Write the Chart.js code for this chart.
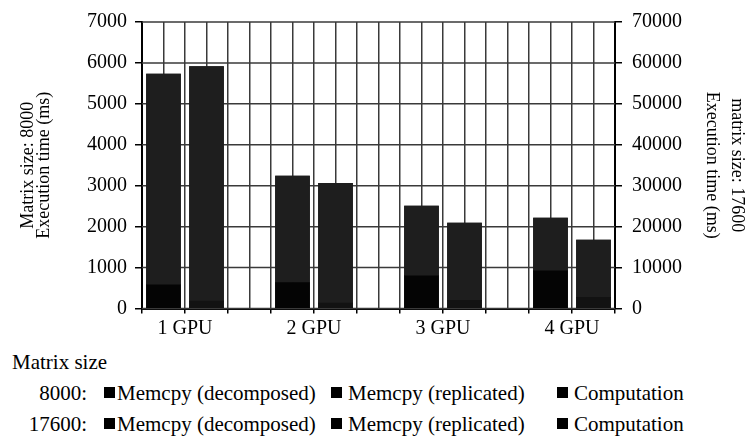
<!DOCTYPE html>
<html>
<head>
<meta charset="utf-8">
<script src="https://cdn.jsdelivr.net/npm/chart.js@4.4.1/dist/chart.umd.min.js"></script>
<style>
    html, body { margin: 0; padding: 0; background: #fff; }
    #wrap { position: relative; width: 748px; height: 441px; font-family: 'Liberation Serif', serif; color: #000; }
    #chartBox { position: absolute; left: 0; top: 0; width: 748px; height: 345px; }
    .lg { position: absolute; font-size: 21px; line-height: 24px; white-space: nowrap; }
    .sw { position: absolute; width: 11px; height: 11px; }
</style>
</head>
<body>
<div id="wrap">
    <div id="chartBox"><canvas id="chart"></canvas></div>
    <div id="legend"></div>
</div>
<script>
const gpuLabels = ['1 GPU', '2 GPU', '3 GPU', '4 GPU'];
const leftTicks = [0, 1000, 2000, 3000, 4000, 5000, 6000, 7000];
const rightTicks = [0, 10000, 20000, 30000, 40000, 50000, 60000, 70000];
const sizeLabels = ['8000', '17600'];
const seriesLabels = ['Memcpy (decomposed)', 'Memcpy (replicated)', 'Computation'];

// matrix size 8000 (left axis, ms)
const memcpyDecomposed8000 = [580, 635, 800, 920];
const memcpyReplicated8000 = [180, 135, 200, 270];
const computationDecomposed8000 = [5150, 2600, 1705, 1290];
const computationReplicated8000 = [5730, 2925, 1890, 1400];

// matrix size 17600 (right axis, ms)
const memcpyDecomposed17600 = [5800, 6350, 8000, 9200];
const memcpyReplicated17600 = [1800, 1350, 2000, 2700];
const computationDecomposed17600 = [51500, 26000, 17050, 12900];
const computationReplicated17600 = [57300, 29250, 18900, 14000];

const colors = ['#040404', '#121212', '#1e1e1e'];
const gridColor = '#3a3a3a';

// each GPU group takes 3 slots: decomposed bar, replicated bar, gap
const slotX = (g, variant) => g * 3 + variant + 0.5;
const pts = (values, variant) => values.map((v, g) => ({ x: slotX(g, variant), y: v }));

function sizeDatasets(sizeIdx, axis, memDec, memRep, compDec, compRep) {
    return [
        { label: seriesLabels[0], size: sizeIdx, data: pts(memDec, 0), backgroundColor: colors[0], yAxisID: axis },
        { label: seriesLabels[1], size: sizeIdx, data: pts(memRep, 1), backgroundColor: colors[1], yAxisID: axis },
        { label: seriesLabels[2], size: sizeIdx, data: pts(compDec, 0).concat(pts(compRep, 1)), backgroundColor: colors[2], yAxisID: axis }
    ];
}

const datasets = sizeDatasets(0, 'y', memcpyDecomposed8000, memcpyReplicated8000, computationDecomposed8000, computationReplicated8000)
    .concat(sizeDatasets(1, 'y1', memcpyDecomposed17600, memcpyReplicated17600, computationDecomposed17600, computationReplicated17600));

const tickFont = { family: 'Liberation Serif', size: 20 };

// horizontal grid lines at the left axis ticks, drawn under the bars
const hGrid = {
    id: 'hGrid',
    beforeDatasetsDraw(chart) {
        const { ctx, chartArea, scales } = chart;
        ctx.save();
        ctx.strokeStyle = gridColor;
        ctx.lineWidth = 1.5;
        scales.y.ticks.forEach(t => {
            const py = scales.y.getPixelForValue(t.value);
            ctx.beginPath();
            ctx.moveTo(chartArea.left, py);
            ctx.lineTo(chartArea.right, py);
            ctx.stroke();
        });
        ctx.restore();
    }
};

const chart = new Chart(document.getElementById('chart'), {
    type: 'bar',
    data: { datasets: datasets },
    plugins: [hGrid],
    options: {
        responsive: true,
        maintainAspectRatio: false,
        animation: false,
        layout: { padding: { top: 15, left: 0, right: 0, bottom: 0 } },
        datasets: { bar: { barThickness: 34, borderWidth: 0 } },
        plugins: { legend: { display: false }, tooltip: { enabled: false } },
        scales: {
            x: {
                type: 'linear',
                stacked: true,
                min: 0,
                max: gpuLabels.length * 3 - 1,
                offset: false,
                afterFit: s => { s.height = 36.5; },
                grid: {
                    offset: false,
                    color: gridColor,
                    lineWidth: 1.5,
                    tickLength: 5,
                    tickColor: c => (c.tick && !Number.isInteger(c.tick.value)) ? 'rgba(0,0,0,0)' : '#000',
                    tickWidth: 1.5
                },
                border: { color: '#000', width: 2 },
                ticks: {
                    stepSize: 0.5,
                    autoSkip: false,
                    maxRotation: 0,
                    padding: 3,
                    color: '#000',
                    font: tickFont,
                    callback: v => {
                        const g = (v - 1) / 3;
                        return Number.isInteger(g) ? gpuLabels[g] : '';
                    }
                }
            },
            y: {
                type: 'linear',
                position: 'left',
                stacked: true,
                min: leftTicks[0],
                max: leftTicks[leftTicks.length - 1],
                afterFit: s => { s.width = 142; },
                grid: { drawOnChartArea: false, lineWidth: 1.5, tickLength: 7, tickColor: '#000' },
                border: { color: '#000', width: 2 },
                ticks: { stepSize: leftTicks[1] - leftTicks[0], padding: 8, color: '#000', font: tickFont, callback: v => String(v) },
                title: {
                    display: true,
                    text: ['Matrix size: 8000', 'Execution time (ms)'],
                    color: '#000',
                    font: { family: 'Liberation Serif', size: 18, lineHeight: '16px' },
                    padding: { top: 20, bottom: 0 }
                }
            },
            y1: {
                type: 'linear',
                position: 'right',
                stacked: true,
                min: rightTicks[0],
                max: rightTicks[rightTicks.length - 1],
                afterFit: s => { s.width = 133; },
                grid: { drawOnChartArea: false, lineWidth: 1.5, tickLength: 7, tickColor: '#000' },
                border: { color: '#000', width: 2 },
                ticks: { stepSize: rightTicks[1] - rightTicks[0], padding: 10, color: '#000', font: tickFont, callback: v => String(v) },
                title: {
                    display: true,
                    // rotated clockwise: the first line ends up on the outer (right) side
                    text: ['matrix size: 17600', 'Execution time (ms)'],
                    color: '#000',
                    font: { family: 'Liberation Serif', size: 18, lineHeight: '25px' },
                    padding: { top: -1.5, bottom: 0 }
                }
            }
        }
    }
});

// legend laid out like the original: a header, then one row per matrix size
const legendEl = document.getElementById('legend');
const rowY = [381, 412];
const swatchX = [104, 331, 557];
const textX = [117, 348, 574];

function addText(txt, css) {
    const d = document.createElement('div');
    d.className = 'lg';
    d.textContent = txt;
    Object.assign(d.style, css);
    legendEl.appendChild(d);
}

addText('Matrix size', { left: '12px', top: '350px' });
sizeLabels.forEach((size, r) => {
    addText(size + ':', { right: (748 - 87) + 'px', top: rowY[r] + 'px' });
    chart.data.datasets.filter(ds => ds.size === r).forEach((ds, i) => {
        const sw = document.createElement('div');
        sw.className = 'sw';
        sw.style.left = swatchX[i] + 'px';
        sw.style.top = (rowY[r] + 6) + 'px';
        sw.style.background = '#000';
        legendEl.appendChild(sw);
        addText(ds.label, { left: textX[i] + 'px', top: rowY[r] + 'px' });
    });
});
</script>
</body>
</html>
